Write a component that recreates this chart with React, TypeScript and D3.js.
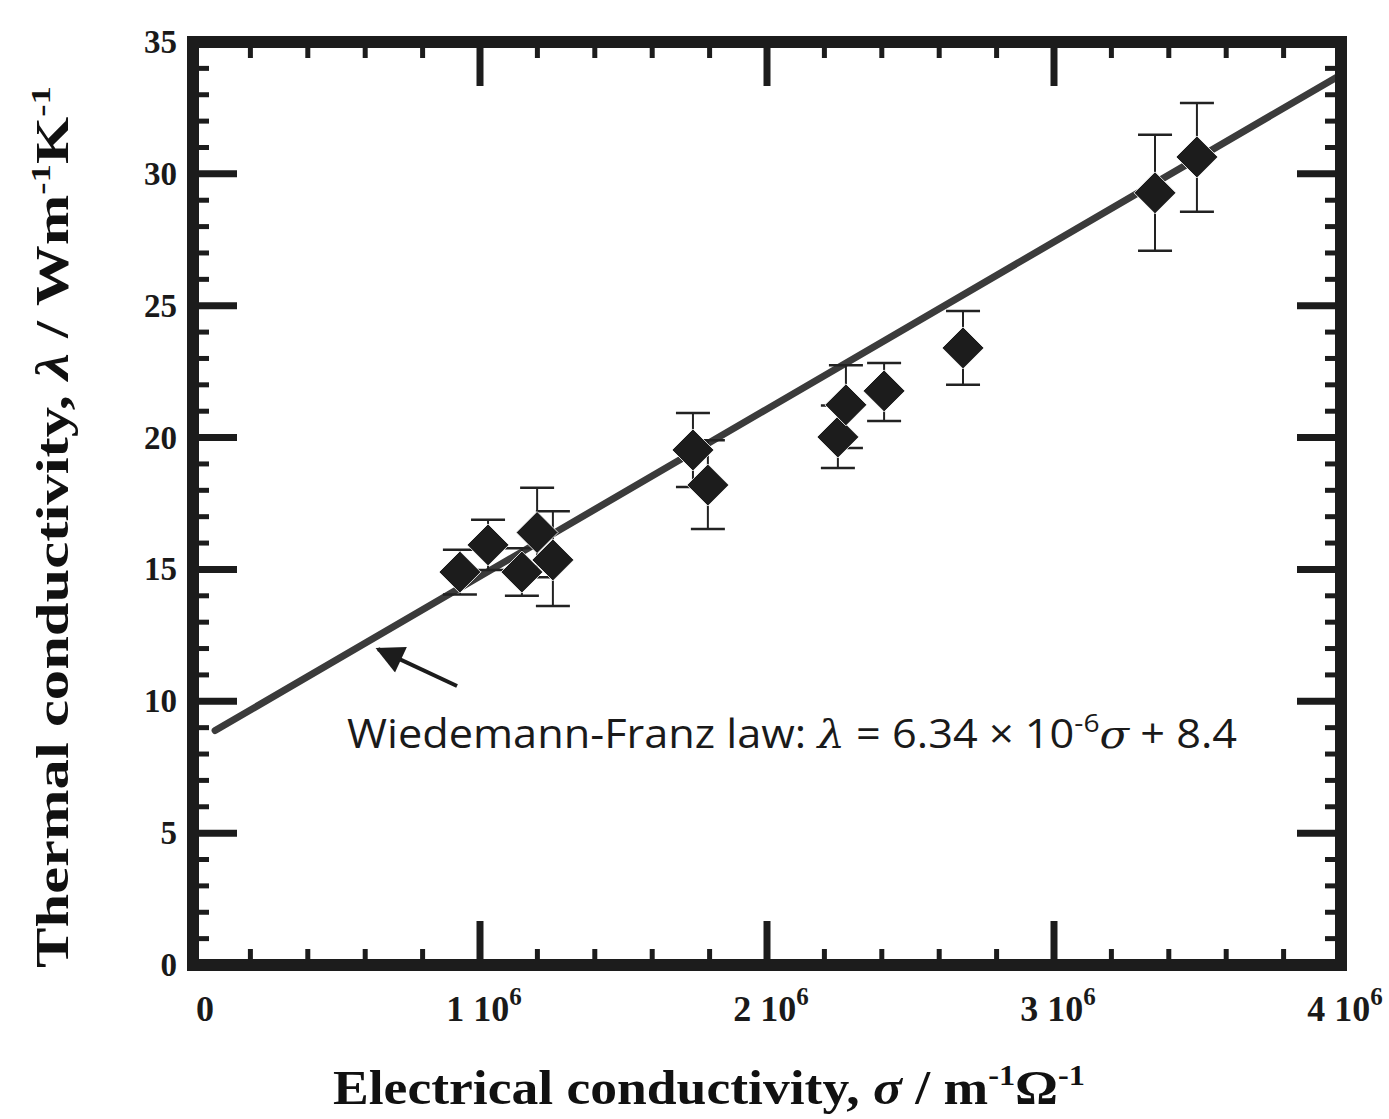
import React from "react";
import * as d3 from "d3";

// ---- data ----
const sigma = [0.93e6, 1.028e6, 1.146e6, 1.199e6, 1.254e6, 1.742e6, 1.794e6, 2.247e6, 2.275e6, 2.408e6, 2.683e6, 3.352e6, 3.498e6];
const lambda = [14.9, 15.93, 14.9, 16.4, 15.36, 19.53, 18.2, 20.02, 21.24, 21.77, 23.4, 29.28, 30.64];
const errUp = [0.85, 0.95, 0.9, 1.7, 1.85, 1.4, 1.7, 1.2, 1.5, 1.06, 1.4, 2.2, 2.05];
const errDown = [0.85, 0.95, 0.9, 1.7, 1.75, 1.4, 1.67, 1.17, 1.64, 1.14, 1.4, 2.2, 2.08];
const fitSigma = [0.077e6, 4.0e6];
const fitLambda = [8.89, 33.76];
const xTicks = [0, 1e6, 2e6, 3e6, 4e6];
const xTickLabels = ["0", "1 10", "2 10", "3 10", "4 10"];
const yTicks = [0, 5, 10, 15, 20, 25, 30, 35];
const arrowFrom = [0.92e6, 10.58];
const arrowTo = [0.645e6, 11.98];
const notePos = [0.537e6, 8.23];

const W = 1389;
const H = 1119;

export default function App() {
  const x = d3.scaleLinear().domain([0, 4e6]).range([193, 1341]);
  const y = d3.scaleLinear().domain([0, 35]).range([965, 42]);
  const frameCol = "#1c1c1c";

  const xMinor = d3.range(0, 4e6 + 1, 2e5).filter((v) => !xTicks.some((t) => Math.abs(t - v) < 1));
  const yMinor = d3.range(0, 35.01, 1).filter((v) => !yTicks.some((t) => Math.abs(t - v) < 1e-6));

  const line = d3
    .line<number>()
    .x((_, i) => x(fitSigma[i]))
    .y((d) => y(d));

  const diamond = d3.symbol().type(d3.symbolSquare).size(880)();

  const majorLen = 44;
  const minorLen = 16;

  return (
    <svg width={W} height={H} style={{ position: "absolute", left: 0, top: 0, background: "#fff" }}>
      <defs>
        <marker id="ah" viewBox="0 0 10 10" refX="9" refY="5" markerWidth="7.5" markerHeight="7" orient="auto" markerUnits="strokeWidth">
          <path d="M0,0 L10,5 L0,10 z" fill="#1c1c1c" />
        </marker>
      </defs>

      {/* fit line */}
      <path d={line(fitLambda) || ""} fill="none" stroke="#3b3b3b" strokeWidth={7} strokeLinecap="round" />

      {/* error bars */}
      {sigma.map((s, i) => {
        const cx = x(s);
        const yt = y(lambda[i] + errUp[i]);
        const yb = y(lambda[i] - errDown[i]);
        return (
          <g key={"e" + i} stroke="#222" strokeWidth={2}>
            <line x1={cx} x2={cx} y1={yt} y2={yb} />
            <line x1={cx - 17} x2={cx + 17} y1={yt} y2={yt} strokeWidth={2.5} />
            <line x1={cx - 17} x2={cx + 17} y1={yb} y2={yb} strokeWidth={2.5} />
          </g>
        );
      })}

      {/* diamonds */}
      {sigma.map((s, i) => (
        <path
          key={"d" + i}
          d={diamond || ""}
          transform={`translate(${x(s)},${y(lambda[i])}) rotate(45)`}
          fill="#1c1c1c"
          stroke="#fff"
          strokeWidth={0.8}
        />
      ))}

      {/* arrow */}
      <line
        x1={x(arrowFrom[0])}
        y1={y(arrowFrom[1])}
        x2={x(arrowTo[0])}
        y2={y(arrowTo[1])}
        stroke="#1c1c1c"
        strokeWidth={4}
        markerEnd="url(#ah)"
      />

      {/* annotation */}
      <text
        x={x(notePos[0])}
        y={y(notePos[1])}
        fontFamily="'Open Sans', 'Noto Sans', sans-serif"
        fontSize={40}
        fill="#1a1a1a"
        textLength={890}
        lengthAdjust="spacingAndGlyphs"
      >
        Wiedemann-Franz law:{" "}
        <tspan fontFamily="'DejaVu Serif', serif" fontStyle="italic">λ</tspan>
        {" = 6.34 × 10"}
        <tspan dy={-16} fontSize={26}>-6</tspan>
        <tspan dy={16} fontFamily="'DejaVu Serif', serif" fontStyle="italic">σ</tspan>
        {" + 8.4"}
      </text>

      {/* frame ticks */}
      <g stroke={frameCol}>
        {xTicks.map((t, i) => (
          <g key={"xt" + i}>
            <line x1={x(t)} x2={x(t)} y1={y(0)} y2={y(0) - majorLen} strokeWidth={7} />
            <line x1={x(t)} x2={x(t)} y1={y(35)} y2={y(35) + majorLen} strokeWidth={7} />
          </g>
        ))}
        {xMinor.map((t, i) => (
          <g key={"xm" + i}>
            <line x1={x(t)} x2={x(t)} y1={y(0)} y2={y(0) - minorLen} strokeWidth={5} />
            <line x1={x(t)} x2={x(t)} y1={y(35)} y2={y(35) + minorLen} strokeWidth={5} />
          </g>
        ))}
        {yTicks.map((t, i) => (
          <g key={"yt" + i}>
            <line x1={x(0)} x2={x(0) + majorLen} y1={y(t)} y2={y(t)} strokeWidth={7} />
            <line x1={x(4e6)} x2={x(4e6) - majorLen} y1={y(t)} y2={y(t)} strokeWidth={7} />
          </g>
        ))}
        {yMinor.map((t, i) => (
          <g key={"ym" + i}>
            <line x1={x(0)} x2={x(0) + minorLen} y1={y(t)} y2={y(t)} strokeWidth={5} />
            <line x1={x(4e6)} x2={x(4e6) - minorLen} y1={y(t)} y2={y(t)} strokeWidth={5} />
          </g>
        ))}
      </g>
      <rect x={x(0)} y={y(35)} width={x(4e6) - x(0)} height={y(0) - y(35)} fill="none" stroke={frameCol} strokeWidth={12} />

      {/* tick labels */}
      <g fontFamily="'Liberation Serif', 'Times New Roman', serif" fontWeight="bold" fill="#1a1a1a">
        {yTicks.map((t, i) => (
          <text key={"yl" + i} x={177} y={y(t) + 11} fontSize={33} textAnchor="end">
            {t}
          </text>
        ))}
        {xTicks.map((t, i) => (
          <text key={"xl" + i} x={x(t) + (i === 0 ? 12 : 4)} y={1021} fontSize={36} textAnchor="middle">
            {xTickLabels[i]}
            {i > 0 ? (
              <tspan dy={-16} fontSize={25}>
                6
              </tspan>
            ) : null}
          </text>
        ))}
      </g>

      {/* axis titles */}
      <text
        x={333}
        y={1104}
        fontFamily="'Liberation Serif', 'Times New Roman', serif"
        fontWeight="bold"
        fontSize={48}
        fill="#111"
        textLength={752}
        lengthAdjust="spacingAndGlyphs"
      >
        Electrical conductivity,{" "}
        <tspan fontStyle="italic">σ</tspan>
        {" / m"}
        <tspan dy={-19} fontSize={29}>-1</tspan>
        <tspan dy={19}>Ω</tspan>
        <tspan dy={-19} fontSize={29}>-1</tspan>
      </text>
      <text
        transform="translate(68,968) rotate(-90)"
        x={0}
        y={0}
        fontFamily="'Liberation Serif', 'Times New Roman', serif"
        fontWeight="bold"
        fontSize={46}
        fill="#111"
        textLength={882}
        lengthAdjust="spacingAndGlyphs"
      >
        Thermal conductivity,{" "}
        <tspan fontStyle="italic">λ</tspan>
        {"  /  Wm"}
        <tspan dy={-18} fontSize={28}>-1</tspan>
        <tspan dy={18}>K</tspan>
        <tspan dy={-18} fontSize={28}>-1</tspan>
      </text>
    </svg>
  );
}
